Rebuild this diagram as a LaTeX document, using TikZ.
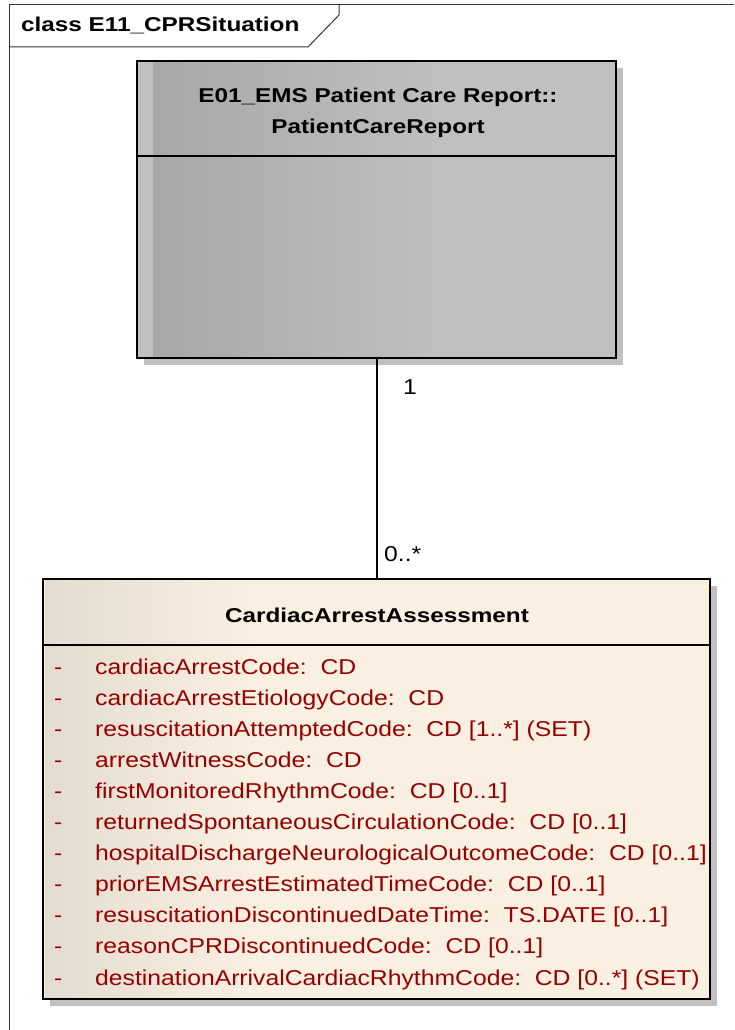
\documentclass[tikz,border=0pt]{standalone}
\usepackage{fontspec}
\setmainfont{Liberation Sans}
\usepackage{graphicx}
\definecolor{attrred}{RGB}{150,0,0}
\definecolor{cream}{RGB}{250,240,226}
\definecolor{creamdark}{RGB}{228,220,208}
\definecolor{shadowgray}{RGB}{192,192,192}
\definecolor{greylight}{RGB}{192,192,192}
\definecolor{greydark}{RGB}{168,168,168}
\newcommand{\btxt}[1]{\scalebox{1.215}[1]{\fontsize{20}{24}\selectfont\bfseries #1}}
\newcommand{\rtxt}[1]{\scalebox{1.15}[1]{\fontsize{21.5}{26}\selectfont #1}}
\newcommand{\tsp}{:\ \ }
\tikzset{
  frameline/.style={line width=1pt, draw=black!80},
  classbox/.style={draw=black, line width=1.8pt, rectangle, inner sep=0pt},
  divider/.style={draw=black, line width=1.8pt},
  assoc/.style={draw=black, line width=2pt},
  attr/.style={anchor=base west, inner sep=0pt, text=attrred},
  heading/.style={anchor=base, inner sep=0pt, text=black},
  mult/.style={anchor=base west, inner sep=0pt, text=black},
}
\begin{document}
\begin{tikzpicture}[x=1pt,y=-1pt]
\useasboundingbox (0,0) rectangle (734,1030);
\fill[white] (0,0) rectangle (734,1030);
% frame
\draw[frameline] (9,1030) -- (9,5) -- (734,5);
\draw[frameline] (9,47) -- (308,47) -- (339,15) -- (339,5);
\node[anchor=base west, inner sep=0pt] (title) at (21,32) {\btxt{class E11\_CPRSituation}};

% top class box
\fill[shadowgray] (144,68) rectangle (623,365);
\fill[greylight] (137,61) rectangle (616,358);
\shade[left color=greydark, right color=greylight] (153,61) rectangle (450,358);
\node[classbox, minimum width=479pt, minimum height=297pt] (pcr) at (376.5,209.5) {};
\draw[divider] (pcr.west |- 0,156) -- (pcr.east |- 0,156);
\node[heading] (pcrname1) at (378,103) {\btxt{E01\_EMS Patient Care Report::}};
\node[heading] (pcrname2) at (378,133) {\btxt{PatientCareReport}};

% bottom class box
\fill[shadowgray] (50,586) rectangle (717,1006);
\fill[cream] (43,579) rectangle (710,999);
\shade[left color=creamdark, right color=cream] (45,579) rectangle (260,999);
\node[classbox, minimum width=667pt, minimum height=420pt] (caa) at (376.5,789) {};
\draw[divider] (caa.west |- 0,645) -- (caa.east |- 0,645);
\node[heading] (caaname) at (377,622) {\btxt{CardiacArrestAssessment}};

% association
\draw[assoc] (pcr.south -| 376.5,0) -- (caa.north -| 376.5,0);
\node[mult] (m1) at (403,394) {\rtxt{1}};
\node[mult] (m2) at (384,561) {\rtxt{0..*}};

% attributes
\foreach \i/\t in {0/{cardiacArrestCode\tsp CD},
  1/{cardiacArrestEtiologyCode\tsp CD},
  2/{resuscitationAttemptedCode\tsp CD [1..*] (SET)},
  3/{arrestWitnessCode\tsp CD},
  4/{firstMonitoredRhythmCode\tsp CD [0..1]},
  5/{returnedSpontaneousCirculationCode\tsp CD [0..1]},
  6/{hospitalDischargeNeurologicalOutcomeCode\tsp CD [0..1]},
  7/{priorEMSArrestEstimatedTimeCode\tsp CD [0..1]},
  8/{resuscitationDiscontinuedDateTime\tsp TS.DATE [0..1]},
  9/{reasonCPRDiscontinuedCode\tsp CD [0..1]},
  10/{destinationArrivalCardiacRhythmCode\tsp CD [0..*] (SET)}}{
  \node[attr] (dash\i) at (54,674+31.1*\i) {\rtxt{-}};
  \node[attr] (attr\i) at (95,674+31.1*\i) {\rtxt{\t}};
}
\end{tikzpicture}
\end{document}
